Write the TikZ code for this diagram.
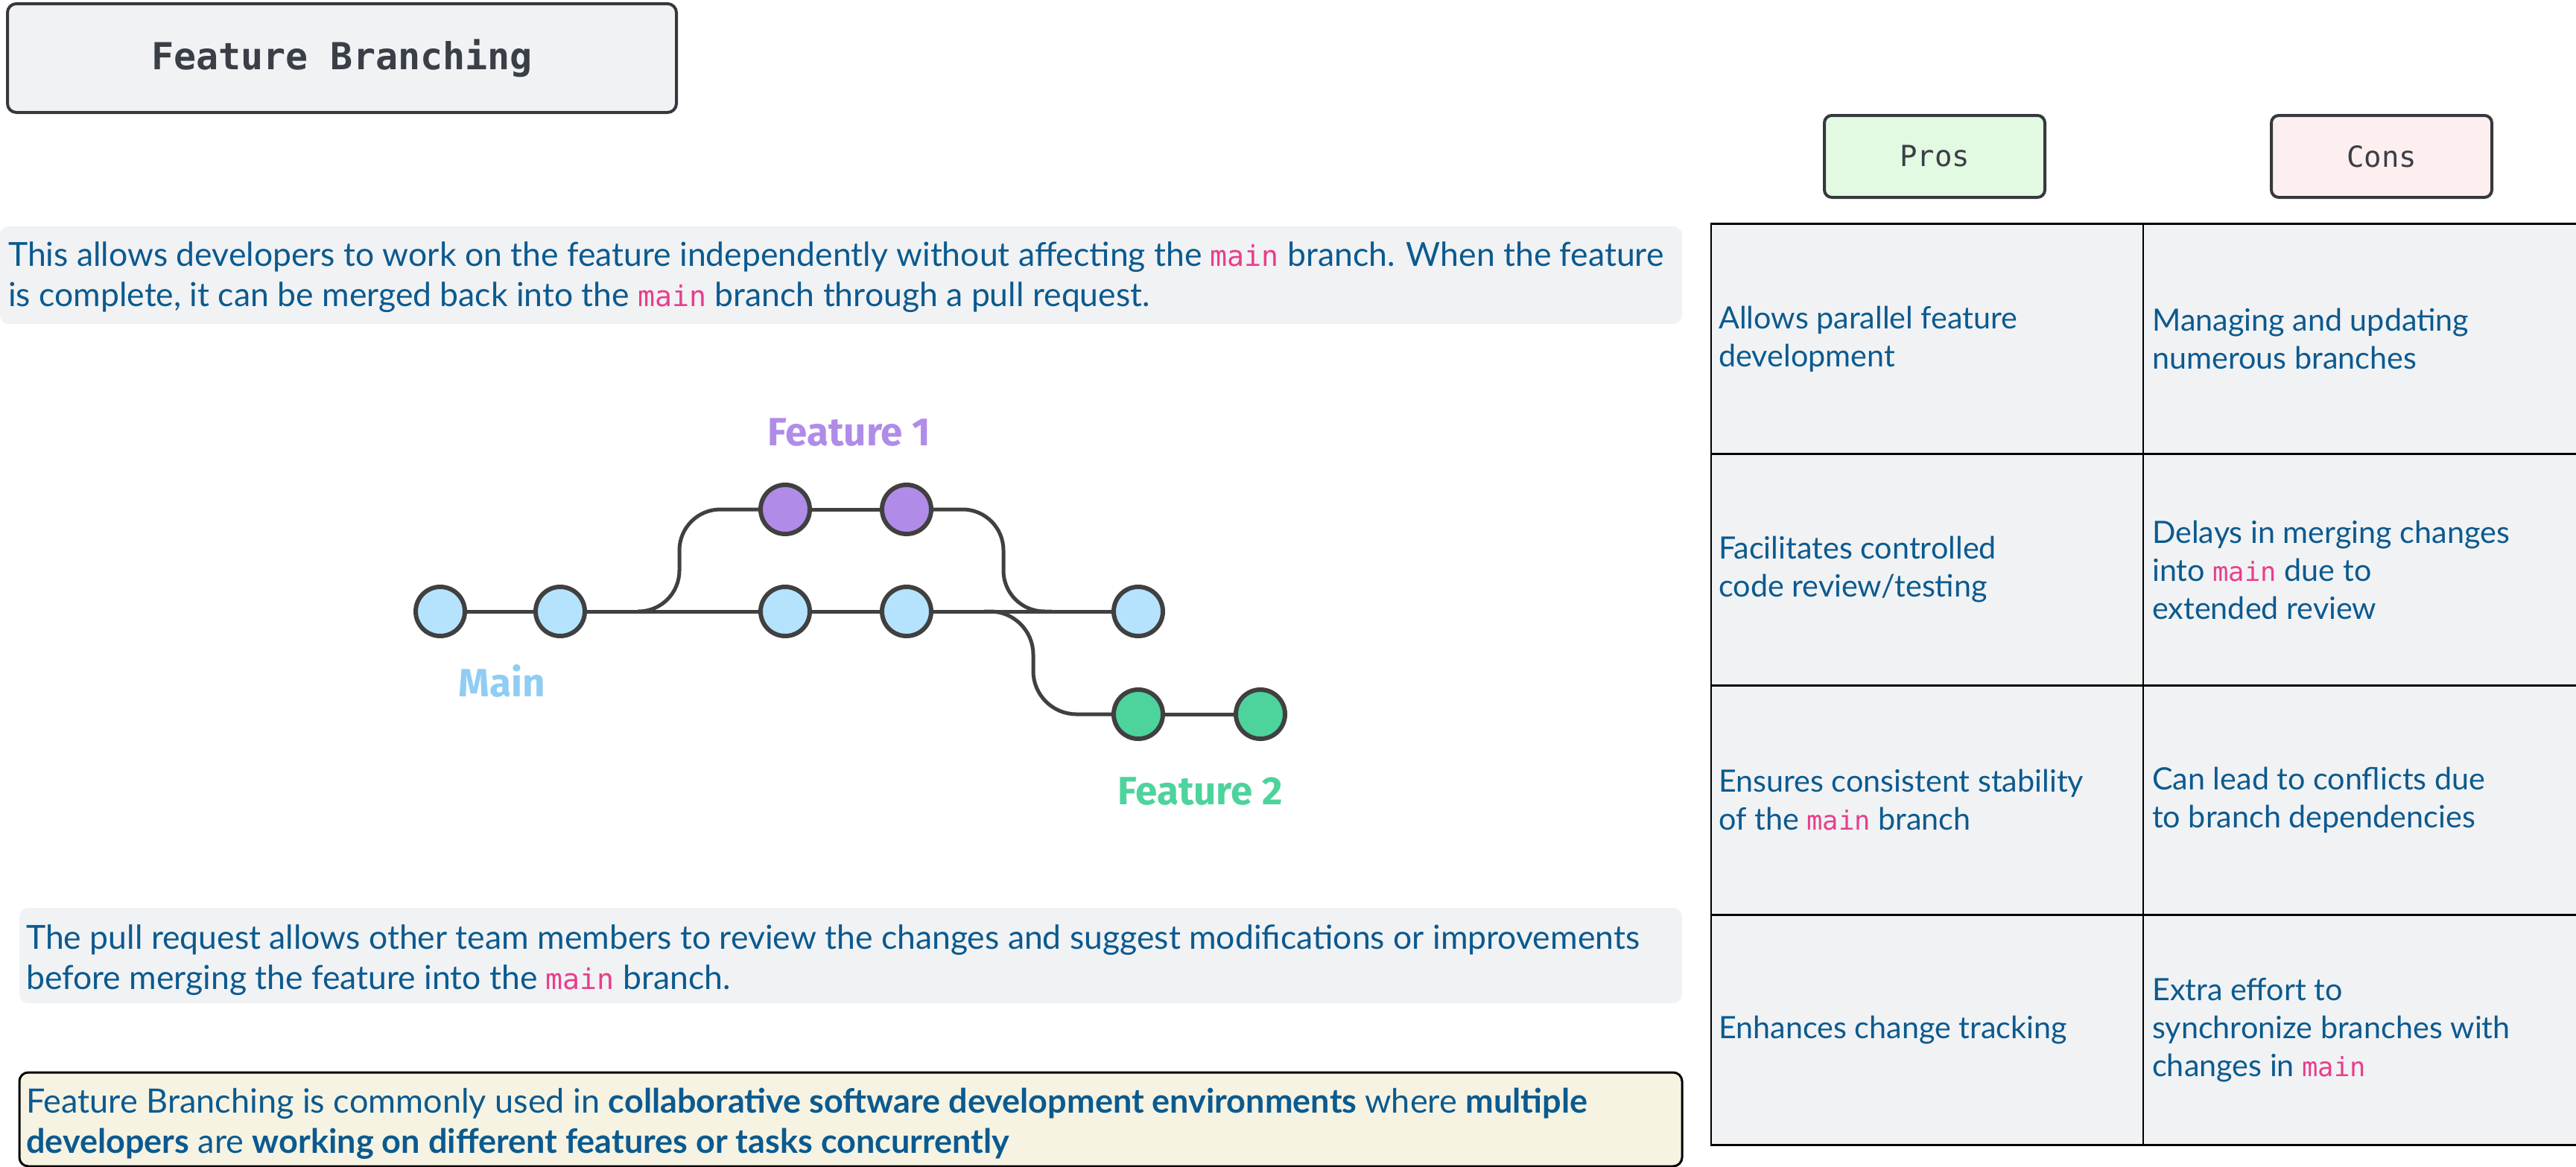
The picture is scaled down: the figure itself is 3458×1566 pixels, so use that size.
\documentclass[tikz,border=0pt]{standalone}
\usepackage{fontspec}
\setmainfont{Lato}
\newfontfamily\monofam{DejaVu Sans Mono}
\newfontfamily\codefam{DejaVu Sans Mono}[Scale=0.86]
\newfontfamily\labelfam{Fira Sans}
\definecolor{txt}{HTML}{0B5A8F}
\definecolor{codepink}{HTML}{E83E8C}
\definecolor{boxgrey}{HTML}{F1F2F4}
\definecolor{edge}{HTML}{35383D}
\definecolor{titletxt}{HTML}{3A3F47}
\definecolor{cream}{HTML}{F6F3E2}
\definecolor{prosg}{HTML}{E2F9E2}
\definecolor{consr}{HTML}{FDEFEF}
\definecolor{mainblue}{HTML}{B5E3FD}
\definecolor{f1purple}{HTML}{B08CE8}
\definecolor{f2green}{HTML}{4DD39C}
\definecolor{mainlbl}{HTML}{8FCDF3}
\definecolor{gitline}{HTML}{404040}
\newcommand\cd[1]{{\codefam\color{codepink}#1}}
\tikzset{
  para/.style={anchor=west, align=left, inner sep=0pt, text=txt, font=\fontsize{44.5}{54}\selectfont},
  cell/.style={anchor=west, align=left, inner sep=0pt, text=txt, font=\fontsize{41.3}{51}\selectfont},
  commit/.style={circle, draw=gitline, line width=6pt, minimum size=66pt, inner sep=0pt},
  gitedge/.style={draw=gitline, line width=5pt},
  glabel/.style={inner sep=0pt, font=\labelfam\bfseries\fontsize{53}{56}\selectfont},
  headbox/.style={draw=edge, line width=4pt, rounded corners=10pt, minimum width=296pt, minimum height=110pt, inner sep=0pt, text=titletxt, font=\monofam\fontsize{39}{45}\selectfont},
}
\begin{document}
\begin{tikzpicture}[x=1pt,y=-1pt]
\useasboundingbox (0,0) rectangle (3458,1566);
\fill[white] (0,0) rectangle (3458,1566);
% title
\node[draw=edge, line width=4pt, rounded corners=12pt, fill=boxgrey, minimum width=898pt, minimum height=146pt, inner sep=0pt, text=titletxt, font=\monofam\bfseries\fontsize{50}{54}\selectfont] (title) at (459,78) {Feature Branching};
% paragraph 1
\fill[boxgrey, rounded corners=12pt] (0,304) rectangle (2258,435);
\node[para] (p1) at (11,372) {This allows developers to work on the feature independently without affecting the \cd{main} branch. When the feature\\is complete, it can be merged back into the \cd{main} branch through a pull request.};
% paragraph 2
\fill[boxgrey, rounded corners=12pt] (26,1219) rectangle (2258,1347);
\node[para] (p2) at (35,1289) {The pull request allows other team members to review the changes and suggest modifications or improvements\\before merging the feature into the \cd{main} branch.};
% paragraph 3
\filldraw[fill=cream, draw=black, line width=3pt, rounded corners=12pt] (26,1440) rectangle (2258,1566);
\node[para, font=\fontsize{45}{54}\selectfont] (p3) at (35,1509) {Feature Branching is commonly used in \textbf{collaborative software development environments} where \textbf{multiple}\\\textbf{developers} are \textbf{working on different features or tasks concurrently}};
% git graph
\node[commit, fill=mainblue] (m1) at (591,821) {};
\node[commit, fill=mainblue] (m2) at (752,821) {};
\node[commit, fill=mainblue] (m3) at (1054,821) {};
\node[commit, fill=mainblue] (m4) at (1217,821) {};
\node[commit, fill=mainblue] (m5) at (1528,821) {};
\node[commit, fill=f1purple] (f1a) at (1054,684) {};
\node[commit, fill=f1purple] (f1b) at (1217,684) {};
\node[commit, fill=f2green] (f2a) at (1528,959) {};
\node[commit, fill=f2green] (f2b) at (1692,959) {};
\coordinate (fork1) at (857,821);
\coordinate (merge1) at (1412,821);
\coordinate (fork2) at (1321,821);
\draw[gitedge] (m1) -- (m2);
\draw[gitedge] (m2) -- (m3);
\draw[gitedge] (m3) -- (m4);
\draw[gitedge] (m4) -- (m5);
\draw[gitedge] (f1a) -- (f1b);
\draw[gitedge] (f2a) -- (f2b);
\draw[gitedge, rounded corners=55pt] (fork1) -| (912,684) -- (f1a);
\draw[gitedge, rounded corners=55pt] (f1b) -| (1347,821) -- (merge1);
\draw[gitedge, rounded corners=58pt] (fork2) -| (1387,959) -- (f2a);
\node[glabel, text=f1purple] (l1) at (1140,581) {Feature 1};
\node[glabel, text=mainlbl] (l0) at (674,914) {Main};
\node[glabel, text=f2green] (l2) at (1611,1063) {Feature 2};
% pros / cons
\node[headbox, fill=prosg] (pros) at (2597,210) {Pros};
\node[headbox, fill=consr] (cons) at (3197,210) {Cons};
% table
\fill[boxgrey] (2297,300) rectangle (3470,1537);
\foreach \yy in {300,609,920,1228,1537} \draw[black, line width=3pt] (2296,\yy) -- (3470,\yy);
\draw[black, line width=2.5pt] (2297,300) -- (2297,1537);
\draw[black, line width=2pt] (2877,300) -- (2877,1537);
\node[cell] (a1) at (2307,455) {Allows parallel feature\\development};
\node[cell] (b1) at (2889,455) {Managing and updating\\numerous branches};
\node[cell] (a2) at (2307,765) {Facilitates controlled\\code review/testing};
\node[cell] (b2) at (2889,765) {Delays in merging changes\\into \cd{main} due to\\extended review};
\node[cell] (a3) at (2307,1074) {Ensures consistent stability\\of the \cd{main} branch};
\node[cell] (b3) at (2889,1074) {Can lead to conflicts due\\to branch dependencies};
\node[cell] (a4) at (2307,1383) {Enhances change tracking};
\node[cell] (b4) at (2889,1383) {Extra effort to\\synchronize branches with\\changes in \cd{main}};
\end{tikzpicture}
\end{document}
